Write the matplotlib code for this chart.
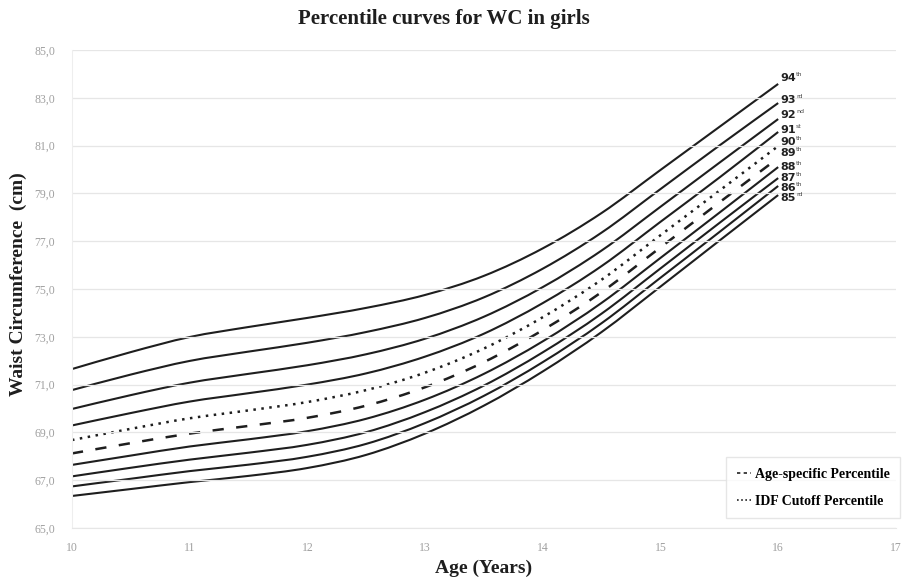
import matplotlib.pyplot as plt
from matplotlib.lines import Line2D
from matplotlib.path import Path
from matplotlib.patches import PathPatch

ages = [10, 10.5, 11, 11.5, 12, 12.5, 13, 13.5, 14, 14.5, 15, 15.5, 16]

# waist circumference (cm)
p94 = [71.65, 72.36, 72.99, 73.41, 73.79, 74.21, 74.75, 75.55, 76.70, 78.18, 79.98, 81.78, 83.58]
p93 = [70.77, 71.42, 71.99, 72.38, 72.75, 73.20, 73.79, 74.65, 75.85, 77.36, 79.18, 81.00, 82.78]
p92 = [69.98, 70.56, 71.08, 71.45, 71.81, 72.27, 72.92, 73.84, 75.08, 76.61, 78.44, 80.28, 82.11]
p91 = [69.29, 69.81, 70.29, 70.64, 71.00, 71.47, 72.17, 73.13, 74.41, 75.96, 77.81, 79.66, 81.57]
p90 = [68.68, 69.15, 69.59, 69.92, 70.27, 70.77, 71.50, 72.51, 73.82, 75.39, 77.25, 79.11, 80.98]
p89 = [68.12, 68.55, 68.95, 69.27, 69.61, 70.12, 70.89, 71.94, 73.28, 74.87, 76.74, 78.62, 80.48]
p88 = [67.64, 68.03, 68.41, 68.71, 69.05, 69.57, 70.37, 71.45, 72.81, 74.42, 76.30, 78.19, 80.10]
p87 = [67.16, 67.52, 67.86, 68.15, 68.48, 69.01, 69.85, 70.96, 72.35, 73.97, 75.86, 77.76, 79.64]
p86 = [66.74, 67.06, 67.38, 67.65, 67.98, 68.52, 69.39, 70.53, 71.94, 73.57, 75.47, 77.38, 79.31]
p85 = [66.34, 66.63, 66.92, 67.18, 67.51, 68.06, 68.95, 70.12, 71.55, 73.20, 75.10, 77.02, 78.93]

curves = [p94, p93, p92, p91, p90, p89, p88, p87, p86, p85]
numbers = ['94', '93', '92', '91', '90', '89', '88', '87', '86', '85']
suffixes = ['th', 'rd', 'nd', 'st', 'th', 'th', 'th', 'th', 'th', 'rd']
styles = ['-', '-', '-', '-', ':', '--', '-', '-', '-', '-']

yticks = [65, 67, 69, 71, 73, 75, 77, 79, 81, 83, 85]
xticks = [10, 11, 12, 13, 14, 15, 16, 17]

# where the right-hand labels sit (y in cm)
label_y = [83.83, 82.91, 82.28, 81.65, 81.15, 80.69, 80.10, 79.64, 79.23, 78.81]


def smooth_path(xs, ys):
    # excel-like smoothed line: cubic bezier through every point
    verts = [(xs[0], ys[0])]
    codes = [Path.MOVETO]
    n = len(xs)
    for i in range(n - 1):
        x0, y0 = (xs[i - 1], ys[i - 1]) if i > 0 else (xs[i], ys[i])
        x1, y1 = xs[i], ys[i]
        x2, y2 = xs[i + 1], ys[i + 1]
        x3, y3 = (xs[i + 2], ys[i + 2]) if i + 2 < n else (x2, y2)
        verts += [(x1 + (x2 - x0) / 6, y1 + (y2 - y0) / 6),
                  (x2 - (x3 - x1) / 6, y2 - (y3 - y1) / 6),
                  (x2, y2)]
        codes += [Path.CURVE4] * 3
    return Path(verts, codes)


fig = plt.figure(figsize=(9.04, 5.84), dpi=100)
ax = fig.add_axes([0.0796, 0.0959, 0.9114, 0.8185])

for vals, ls in zip(curves, styles):
    if ls == ':':
        style = (0, (1, 2.2))
        lw = 1.8
    elif ls == '--':
        style = (0, (4.5, 5))
        lw = 1.8
    else:
        style = '-'
        lw = 1.5
    ax.add_patch(PathPatch(smooth_path(ages, vals), fill=False, edgecolor='#1e1e1e',
                           lw=lw, linestyle=style, capstyle='butt'))

for num, suf, y in zip(numbers, suffixes, label_y):
    ax.annotate(num, (16.02, y), fontsize=8, fontweight='bold', color='#222222',
                va='center', ha='left', family='DejaVu Sans')
    ax.annotate(suf, (16.02, y), xytext=(11.2, 2.6), textcoords='offset points',
                fontsize=4.5, color='#444444', va='center', ha='left', family='DejaVu Sans')

ax.set_xlim(10, 17)
ax.set_ylim(65, 85)
ax.set_xticks(xticks)
ax.set_yticks(yticks)
ax.set_yticklabels([('%.1f' % v).replace('.', ',') for v in yticks])
ax.tick_params(length=0, labelsize=8.5, labelcolor='#a0a0a0')
ax.tick_params(axis='y', pad=12)
ax.tick_params(axis='x', pad=10)
for lab in ax.get_xticklabels() + ax.get_yticklabels():
    lab.set_family('Liberation Serif')
ax.grid(axis='y', color='#e6e6e6', lw=0.9)
for s in ['top', 'right']:
    ax.spines[s].set_visible(False)
ax.spines['left'].set_color('#eeeeee')
ax.spines['bottom'].set_color('#e6e6e6')

fig.text(0.491, 0.968, 'Percentile curves for WC in girls', fontsize=15, fontweight='bold',
         family='Liberation Serif', color='#1e1e1e', ha='center', va='center')
ax.set_xlabel('Age (Years)', fontsize=14, fontweight='bold',
              family='Liberation Serif', color='#1e1e1e', labelpad=4)
ax.set_ylabel('Waist Circumference  (cm)', fontsize=14, fontweight='bold',
              family='Liberation Serif', color='#1e1e1e')
ax.yaxis.set_label_coords(-0.055, 0.51)

handles = [Line2D([], [], color='#222222', lw=1.2, linestyle=(0, (2, 2))),
           Line2D([], [], color='#222222', lw=1.2, linestyle=(0, (1, 1.5)))]
leg = ax.legend(handles, ['Age-specific Percentile', 'IDF Cutoff Percentile'],
                loc='lower right', bbox_to_anchor=(1.005, 0.021), borderaxespad=0,
                handlelength=1.0, handletextpad=0.3, labelspacing=1.0, borderpad=0.75,
                prop={'family': 'Liberation Serif', 'weight': 'bold', 'size': 10},
                frameon=True, fancybox=False, edgecolor='#e0e0e0')

fig.savefig('out.png', dpi=100)
